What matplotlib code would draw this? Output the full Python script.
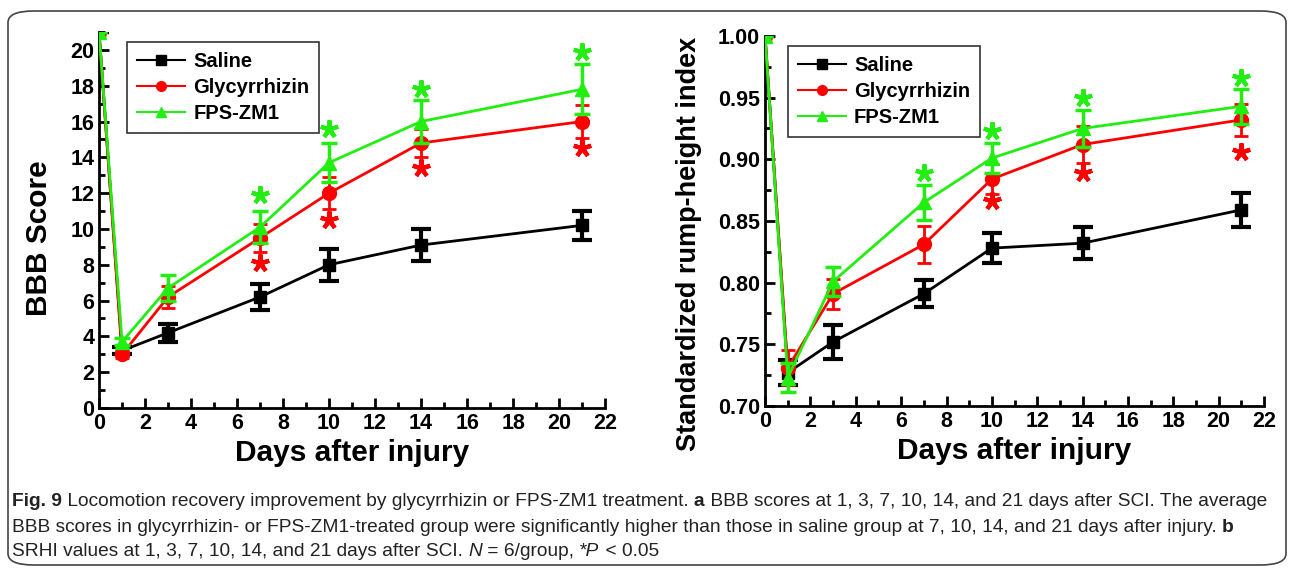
import matplotlib
matplotlib.use("Agg")
import matplotlib.pyplot as plt
from matplotlib.patches import FancyBboxPatch
from matplotlib.ticker import MultipleLocator, FormatStrFormatter

plt.rcParams['font.family'] = ['Liberation Sans', 'DejaVu Sans']
plt.rcParams['font.weight'] = 'bold'

GREEN = '#22ee11'
STAR = (5, 2, 0)

days = [0, 1, 3, 7, 10, 14, 21]

# panel a: BBB score
bbb_saline = [21, 3.2, 4.2, 6.2, 8.0, 9.1, 10.2]
bbb_saline_err = [0, 0.2, 0.5, 0.7, 0.9, 0.9, 0.8]
bbb_gly = [21, 3.0, 6.2, 9.5, 12.0, 14.8, 16.0]
bbb_gly_err = [0, 0.2, 0.6, 0.8, 0.9, 0.8, 0.9]
bbb_fps = [21, 3.7, 6.7, 10.1, 13.7, 16.0, 17.8]
bbb_fps_err = [0, 0.2, 0.7, 0.9, 1.1, 1.2, 1.4]
bbb_star_days = [7, 10, 14, 21]
bbb_star_fps = [11.9, 15.6, 17.8, 19.9]
bbb_star_gly = [8.1, 10.5, 13.4, 14.5]

# panel b: SRHI
srhi_saline = [1.0, 0.727, 0.752, 0.791, 0.828, 0.832, 0.859]
srhi_saline_err = [0, 0.010, 0.014, 0.011, 0.012, 0.013, 0.014]
srhi_gly = [1.0, 0.731, 0.791, 0.831, 0.884, 0.912, 0.932]
srhi_gly_err = [0, 0.014, 0.012, 0.015, 0.012, 0.015, 0.013]
srhi_fps = [1.0, 0.723, 0.801, 0.865, 0.901, 0.925, 0.943]
srhi_fps_err = [0, 0.012, 0.012, 0.014, 0.012, 0.015, 0.014]
srhi_star_fps_days = [7, 10, 14, 21]
srhi_star_fps = [0.889, 0.923, 0.950, 0.966]
srhi_star_gly_days = [10, 14, 21]
srhi_star_gly = [0.866, 0.889, 0.906]

fig = plt.figure(figsize=(12.93, 5.71), dpi=100)

# rounded frame
frame = FancyBboxPatch((8 / 1293, 6 / 571), 1278 / 1293, 554 / 571,
                       boxstyle="round,pad=0,rounding_size=0.02",
                       transform=fig.transFigure, fill=False,
                       edgecolor='#444444', linewidth=1.2)
fig.patches.append(frame)


def draw_panel(ax, sal, sal_e, gly, gly_e, fps, fps_e, leg_x):
    ax.errorbar(days, sal, yerr=sal_e, fmt='none', ecolor='black',
                elinewidth=3, capsize=7, capthick=3, zorder=3)
    ax.plot(days, sal, color='black', marker='s', ms=8, lw=2, label='Saline', zorder=3)
    ax.errorbar(days, gly, yerr=gly_e, fmt='none', ecolor='red',
                elinewidth=2, capsize=5, capthick=2, zorder=4)
    ax.plot(days, gly, color='red', marker='o', ms=10, lw=2, label='Glycyrrhizin', zorder=4)
    ax.errorbar(days, fps, yerr=fps_e, fmt='none', ecolor=GREEN,
                elinewidth=2.5, capsize=6, capthick=2.5, zorder=5)
    ax.plot(days, fps, color=GREEN, marker='^', ms=10.5, lw=2, label='FPS-ZM1', zorder=5)
    for s in ['top', 'right']:
        ax.spines[s].set_visible(False)
    for s in ['left', 'bottom']:
        ax.spines[s].set_linewidth(2)
    ax.set_xlim(0, 22)
    ax.xaxis.set_major_locator(MultipleLocator(2))
    ax.xaxis.set_minor_locator(MultipleLocator(1))
    ax.tick_params(which='both', direction='in', width=2, labelsize=15.5)
    ax.tick_params(which='major', length=7)
    ax.tick_params(which='minor', length=4)
    ax.set_xlabel('Days after injury', fontsize=21.5, fontweight='bold', labelpad=4)
    leg = ax.legend(loc='upper left', bbox_to_anchor=(leg_x, 1.0), fontsize=14.5,
                    frameon=True, fancybox=False, edgecolor='black', numpoints=1,
                    handlelength=2.4, borderpad=0.5, labelspacing=0.35, handletextpad=0.4)
    leg.get_frame().set_linewidth(1.2)
    for line in leg.get_lines():
        line.set_markersize(7)
        line.set_linewidth(1.5)
    for t in leg.get_texts():
        t.set_fontweight('bold')


# left panel
ax1 = fig.add_axes([0.0766, 0.2855, 0.3914, 0.6585])
draw_panel(ax1, bbb_saline, bbb_saline_err, bbb_gly, bbb_gly_err, bbb_fps, bbb_fps_err, 0.035)
ax1.set_ylim(0, 21)
ax1.yaxis.set_major_locator(MultipleLocator(2))
ax1.yaxis.set_minor_locator(MultipleLocator(1))
ax1.set_ylabel('BBB Score', fontsize=21.5, fontweight='bold')
ax1.yaxis.set_label_coords(-0.091, 0.452)
for lab in ax1.get_xticklabels() + ax1.get_yticklabels():
    lab.set_fontweight('bold')
ax1.plot(bbb_star_days, bbb_star_fps, ls='none', marker=STAR, ms=13, mew=3,
         color=GREEN, zorder=6)
ax1.plot(bbb_star_days, bbb_star_gly, ls='none', marker=STAR, ms=13, mew=3,
         color='red', zorder=6)

# right panel
ax2 = fig.add_axes([0.5917, 0.289, 0.3859, 0.648])
draw_panel(ax2, srhi_saline, srhi_saline_err, srhi_gly, srhi_gly_err, srhi_fps, srhi_fps_err, 0.025)
ax2.set_ylim(0.70, 1.00)
ax2.yaxis.set_major_locator(MultipleLocator(0.05))
ax2.yaxis.set_minor_locator(MultipleLocator(0.025))
ax2.yaxis.set_major_formatter(FormatStrFormatter('%.2f'))
ax2.set_ylabel('Standardized rump-height index', fontsize=19.5, fontweight='bold')
ax2.yaxis.set_label_coords(-0.126, 0.438)
for lab in ax2.get_xticklabels() + ax2.get_yticklabels():
    lab.set_fontweight('bold')
ax2.plot(srhi_star_fps_days, srhi_star_fps, ls='none', marker=STAR, ms=13, mew=3,
         color=GREEN, zorder=6)
ax2.plot(srhi_star_gly_days, srhi_star_gly, ls='none', marker=STAR, ms=13, mew=3,
         color='red', zorder=6)

# caption with bold pieces
cap_font = ['Liberation Sans', 'DejaVu Sans']
cap_size = 13.8
caption = [
    [('Fig. 9', True), (' Locomotion recovery improvement by glycyrrhizin or FPS-ZM1 treatment. ', False),
     ('a', True), (' BBB scores at 1, 3, 7, 10, 14, and 21 days after SCI. The average', False)],
    [('BBB scores in glycyrrhizin- or FPS-ZM1-treated group were significantly higher than those in saline group at 7, 10, 14, and 21 days after injury. ', False),
     ('b', True)],
    [('SRHI values at 1, 3, 7, 10, 14, and 21 days after SCI. ', False), ('N', 'it'),
     (' = 6/group, ', False), ('*P', 'it'), (' < 0.05', False)],
]
line_y = [502, 528, 552]
renderer = fig.canvas.get_renderer()
for parts, yy in zip(caption, line_y):
    x = 12
    for txt, style in parts:
        t = fig.text(x / 1293, 1 - yy / 571, txt, fontsize=cap_size, family=cap_font,
                     fontweight='bold' if style is True else 'normal',
                     fontstyle='italic' if style == 'it' else 'normal',
                     color='#222222', va='center', ha='left')
        bb = t.get_window_extent(renderer)
        x += bb.width

fig.savefig('out.png', dpi=100)
